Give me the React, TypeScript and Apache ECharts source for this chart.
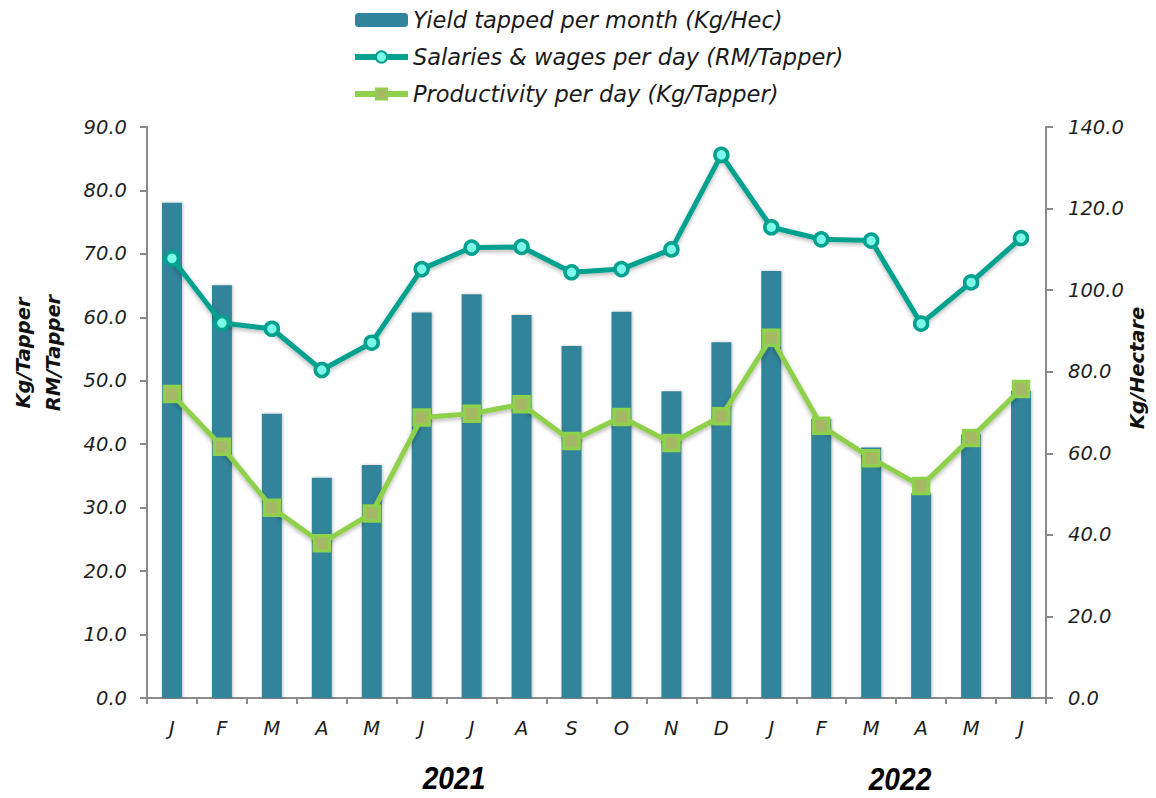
import React, { useEffect, useRef } from "react";
import * as echarts from "echarts";

const months = ["J", "F", "M", "A", "M", "J", "J", "A", "S", "O", "N", "D", "J", "F", "M", "A", "M", "J"];
const yieldPerMonth = [121.4, 101.2, 69.7, 54.0, 57.1, 94.5, 99.0, 93.9, 86.3, 94.7, 75.2, 87.2, 104.7, 68.4, 61.4, 50.2, 64.6, 75.3];
const salaries = [69.3, 59.1, 58.2, 51.7, 56.0, 67.6, 71.0, 71.1, 67.1, 67.6, 70.7, 85.6, 74.2, 72.3, 72.1, 59.0, 65.5, 72.5];
const productivity = [47.9, 39.6, 30.0, 24.4, 29.1, 44.2, 44.8, 46.3, 40.5, 44.3, 40.2, 44.4, 56.8, 42.9, 37.8, 33.4, 41.0, 48.7];
const seriesNames = [
  "Yield tapped per month (Kg/Hec)",
  "Salaries & wages per day (RM/Tapper)",
  "Productivity per day (Kg/Tapper)",
];
const years = ["2021", "2022"];
const leftAxisName = "Kg/Tapper\nRM/Tapper";
const rightAxisName = "Kg/Hectare";

const FONT = "'DejaVu Sans', 'Liberation Sans', Arial, sans-serif";
const YEAR_FONT = "'Liberation Sans', Arial, sans-serif";
const AXIS_COLOR = "#8a8a8a";
const BAR_COLOR = "#31849b";
const SAL_COLOR = "#00a18e";
const SAL_FILL = "#7dfbe9";
const PROD_COLOR = "#8fd04c";
const PROD_FILL = "#a6b865";

export default function App() {
  const ref = useRef<HTMLDivElement>(null);

  useEffect(() => {
    if (!ref.current) return;
    const chart = echarts.init(ref.current, undefined, { renderer: "svg" });
    const labelStyle = {
      fontFamily: FONT,
      fontStyle: "italic" as const,
      fontSize: 19.5,
      color: "#1e1e1e",
    };
    chart.setOption({
      animation: false,
      backgroundColor: "#ffffff",
      grid: { left: 147, right: 110, top: 127, bottom: 100 },
      legend: {
        orient: "vertical",
        left: 352,
        top: 8,
        padding: 0,
        itemWidth: 53,
        itemHeight: 14,
        itemGap: 13,
        textStyle: { ...labelStyle, fontSize: 22.5, lineHeight: 24, color: "#1a1a1a", padding: [0, 0, 0, 0] },
        data: [
          { name: seriesNames[0] },
          { name: seriesNames[1], lineStyle: { width: 6 } },
          { name: seriesNames[2], lineStyle: { width: 6 } },
        ],
      },
      xAxis: {
        type: "category",
        data: months,
        boundaryGap: true,
        axisLine: { lineStyle: { color: AXIS_COLOR, width: 2 } },
        axisTick: { show: true, length: 6, alignWithLabel: false, lineStyle: { color: AXIS_COLOR, width: 2 } },
        axisLabel: { ...labelStyle, margin: 20, interval: 0 },
        splitLine: { show: false },
      },
      yAxis: [
        {
          type: "value",
          min: 0,
          max: 90,
          interval: 10,
          position: "left",
          axisLine: { show: true, lineStyle: { color: AXIS_COLOR, width: 2 } },
          axisTick: { show: true, length: 7, lineStyle: { color: AXIS_COLOR, width: 2 } },
          axisLabel: { ...labelStyle, margin: 20, formatter: (v: number) => v.toFixed(1) },
          splitLine: { show: false },
        },
        {
          type: "value",
          min: 0,
          max: 140,
          interval: 20,
          position: "right",
          axisLine: { show: true, lineStyle: { color: AXIS_COLOR, width: 2 } },
          axisTick: { show: true, length: 7, lineStyle: { color: AXIS_COLOR, width: 2 } },
          axisLabel: { ...labelStyle, margin: 22, formatter: (v: number) => v.toFixed(1) },
          splitLine: { show: false },
        },
      ],
      series: [
        {
          name: seriesNames[0],
          type: "bar",
          yAxisIndex: 1,
          data: yieldPerMonth,
          barWidth: 20,
          itemStyle: {
            color: BAR_COLOR,
            shadowColor: "rgba(0,0,0,0.25)",
            shadowBlur: 3,
            shadowOffsetX: 1,
          },
          z: 1,
        },
        {
          name: seriesNames[1],
          type: "line",
          yAxisIndex: 0,
          data: salaries,
          symbol: "circle",
          symbolSize: 13,
          lineStyle: {
            color: SAL_COLOR,
            width: 5,
            shadowColor: "rgba(0,0,0,0.3)",
            shadowBlur: 4,
            shadowOffsetY: 2,
          },
          itemStyle: { color: SAL_FILL, borderColor: SAL_COLOR, borderWidth: 3.5 },
          z: 3,
        },
        {
          name: seriesNames[2],
          type: "line",
          yAxisIndex: 0,
          data: productivity,
          symbol: "rect",
          symbolSize: 15,
          lineStyle: {
            color: PROD_COLOR,
            width: 5,
            shadowColor: "rgba(0,0,0,0.3)",
            shadowBlur: 4,
            shadowOffsetY: 2,
          },
          itemStyle: { color: PROD_FILL, borderColor: PROD_COLOR, borderWidth: 3.5 },
          z: 2,
        },
      ],
      graphic: [
        {
          type: "text",
          x: 38,
          y: 353,
          rotation: Math.PI / 2,
          style: {
            text: leftAxisName,
            fontFamily: FONT,
            fontStyle: "italic",
            fontWeight: "bold",
            fontSize: 19.5,
            lineHeight: 30,
            fill: "#111",
            align: "center",
            verticalAlign: "middle",
          },
        },
        {
          type: "text",
          x: 1137,
          y: 368,
          rotation: Math.PI / 2,
          style: {
            text: rightAxisName,
            fontFamily: FONT,
            fontStyle: "italic",
            fontWeight: "bold",
            fontSize: 19.5,
            fill: "#111",
            align: "center",
            verticalAlign: "middle",
          },
        },
        {
          type: "text",
          x: 454,
          y: 778,
          scaleX: 0.88,
          style: {
            text: years[0],
            fontFamily: YEAR_FONT,
            fontStyle: "italic",
            fontWeight: "bold",
            fontSize: 32,
            fill: "#000",
            align: "center",
            verticalAlign: "middle",
          },
        },
        {
          type: "text",
          x: 900,
          y: 779,
          scaleX: 0.88,
          style: {
            text: years[1],
            fontFamily: YEAR_FONT,
            fontStyle: "italic",
            fontWeight: "bold",
            fontSize: 32,
            fill: "#000",
            align: "center",
            verticalAlign: "middle",
          },
        },
      ],
    });
    return () => chart.dispose();
  }, []);

  return (
    <div
      ref={ref}
      style={{ position: "fixed", left: 0, top: 0, width: 1156, height: 798, background: "#fff" }}
    />
  );
}
